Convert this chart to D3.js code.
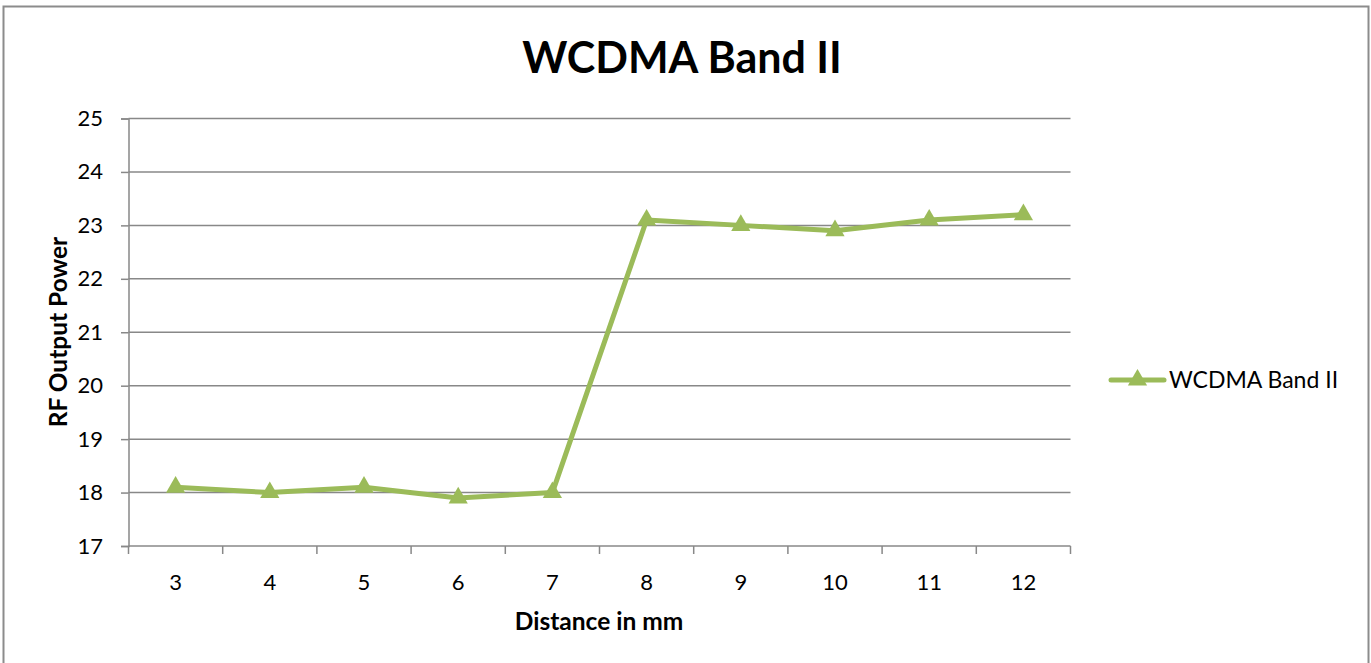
<!DOCTYPE html>
<html>
<head>
<meta charset="utf-8">
<script src="https://cdn.jsdelivr.net/npm/d3@7"></script>
<style>
  html, body { margin: 0; padding: 0; background: #fff; }
  svg { display: block; font-family: Lato, "Open Sans", sans-serif; }
</style>
</head>
<body>
<svg id="chart" width="1371" height="663"></svg>
<script>
// Distance (mm) and measured RF output power
const distances = ["3", "4", "5", "6", "7", "8", "9", "10", "11", "12"];
const powerValues = [18.1, 18.0, 18.1, 17.9, 18.0, 23.1, 23.0, 22.9, 23.1, 23.2];
const yTicks = [17, 18, 19, 20, 21, 22, 23, 24, 25];
const seriesName = "WCDMA Band II";
const chartTitle = "WCDMA Band II";
const xTitle = "Distance in mm";
const yTitle = "RF Output Power";

const svg = d3.select("#chart");
const lineColor = "#9bbb59";
const gridColor = "#888888";

// outer chart frame
svg.append("rect")
  .attr("x", 3.5).attr("y", 6.5)
  .attr("width", 1365).attr("height", 670)
  .attr("fill", "#fff").attr("stroke", "#8c8c8c").attr("stroke-width", 2);

const plot = { left: 128.5, right: 1070.5, top: 118.5, bottom: 546 };

const x = d3.scaleBand().domain(distances).range([plot.left, plot.right]);
const y = d3.scaleLinear().domain([17, 25]).range([plot.bottom, plot.top]);

// horizontal gridlines
svg.append("g")
  .selectAll("line")
  .data(yTicks.filter(t => t !== 17))
  .join("line")
  .attr("x1", plot.left).attr("x2", plot.right)
  .attr("y1", d => y(d)).attr("y2", d => y(d))
  .attr("stroke", gridColor).attr("stroke-width", 1.5);

// y axis
const yAxis = svg.append("g")
  .attr("transform", `translate(${plot.left},0)`)
  .call(d3.axisLeft(y).tickValues(yTicks).tickSize(7.5).tickPadding(18).tickFormat(d3.format("d")));
yAxis.select(".domain").attr("stroke", gridColor).attr("stroke-width", 1.5);
yAxis.selectAll(".tick line").attr("stroke", gridColor).attr("stroke-width", 1.5);
yAxis.selectAll(".tick text").attr("font-size", 22).attr("fill", "#000")
  .attr("font-family", "Lato, 'Open Sans', sans-serif");

// x axis with ticks at category boundaries
const xAxisG = svg.append("g").attr("transform", `translate(0,${plot.bottom})`);
xAxisG.append("line")
  .attr("x1", plot.left).attr("x2", plot.right)
  .attr("y1", 0).attr("y2", 0)
  .attr("stroke", gridColor).attr("stroke-width", 1.5);
const boundaries = distances.map(d => x(d)).concat([x(distances[distances.length - 1]) + x.bandwidth()]);
xAxisG.selectAll("line.tk")
  .data(boundaries)
  .join("line").attr("class", "tk")
  .attr("x1", d => d).attr("x2", d => d)
  .attr("y1", 0).attr("y2", 8)
  .attr("stroke", gridColor).attr("stroke-width", 1.5);
xAxisG.selectAll("text")
  .data(distances)
  .join("text")
  .attr("x", d => x(d) + x.bandwidth() / 2)
  .attr("y", 44)
  .attr("text-anchor", "middle")
  .attr("font-size", 22)
  .attr("fill", "#000")
  .text(d => d);

// data line
const pts = distances.map((d, i) => [x(d) + x.bandwidth() / 2, y(powerValues[i])]);
svg.append("path")
  .attr("d", d3.line()(pts))
  .attr("fill", "none")
  .attr("stroke", lineColor)
  .attr("stroke-width", 5)
  .attr("stroke-linejoin", "round")
  .attr("stroke-linecap", "round");

const tri = d3.symbol().type(d3.symbolTriangle).size(160);
svg.append("g")
  .selectAll("path")
  .data(pts)
  .join("path")
  .attr("transform", d => `translate(${d[0]},${d[1]})`)
  .attr("d", tri)
  .attr("fill", lineColor);

// title
svg.append("text")
  .attr("x", 682).attr("y", 73)
  .attr("text-anchor", "middle")
  .attr("font-size", 43).attr("font-weight", "bold")
  .attr("fill", "#000")
  .text(chartTitle);

// axis titles
svg.append("text")
  .attr("x", 599).attr("y", 630)
  .attr("text-anchor", "middle")
  .attr("font-size", 24.5).attr("font-weight", "bold")
  .text(xTitle);
svg.append("text")
  .attr("transform", "translate(67,332) rotate(-90)")
  .attr("text-anchor", "middle")
  .attr("font-size", 24.5).attr("font-weight", "bold")
  .text(yTitle);

// legend
const lg = svg.append("g").attr("transform", "translate(1111,380)");
lg.append("line")
  .attr("x1", 0).attr("x2", 53).attr("y1", 0).attr("y2", 0)
  .attr("stroke", lineColor).attr("stroke-width", 5).attr("stroke-linecap", "round");
lg.append("path").attr("transform", "translate(26.5,0)").attr("d", tri).attr("fill", lineColor);
lg.append("text")
  .attr("x", 58).attr("y", 8)
  .attr("font-size", 23).attr("fill", "#000")
  .text(seriesName);
</script>
</body>
</html>
